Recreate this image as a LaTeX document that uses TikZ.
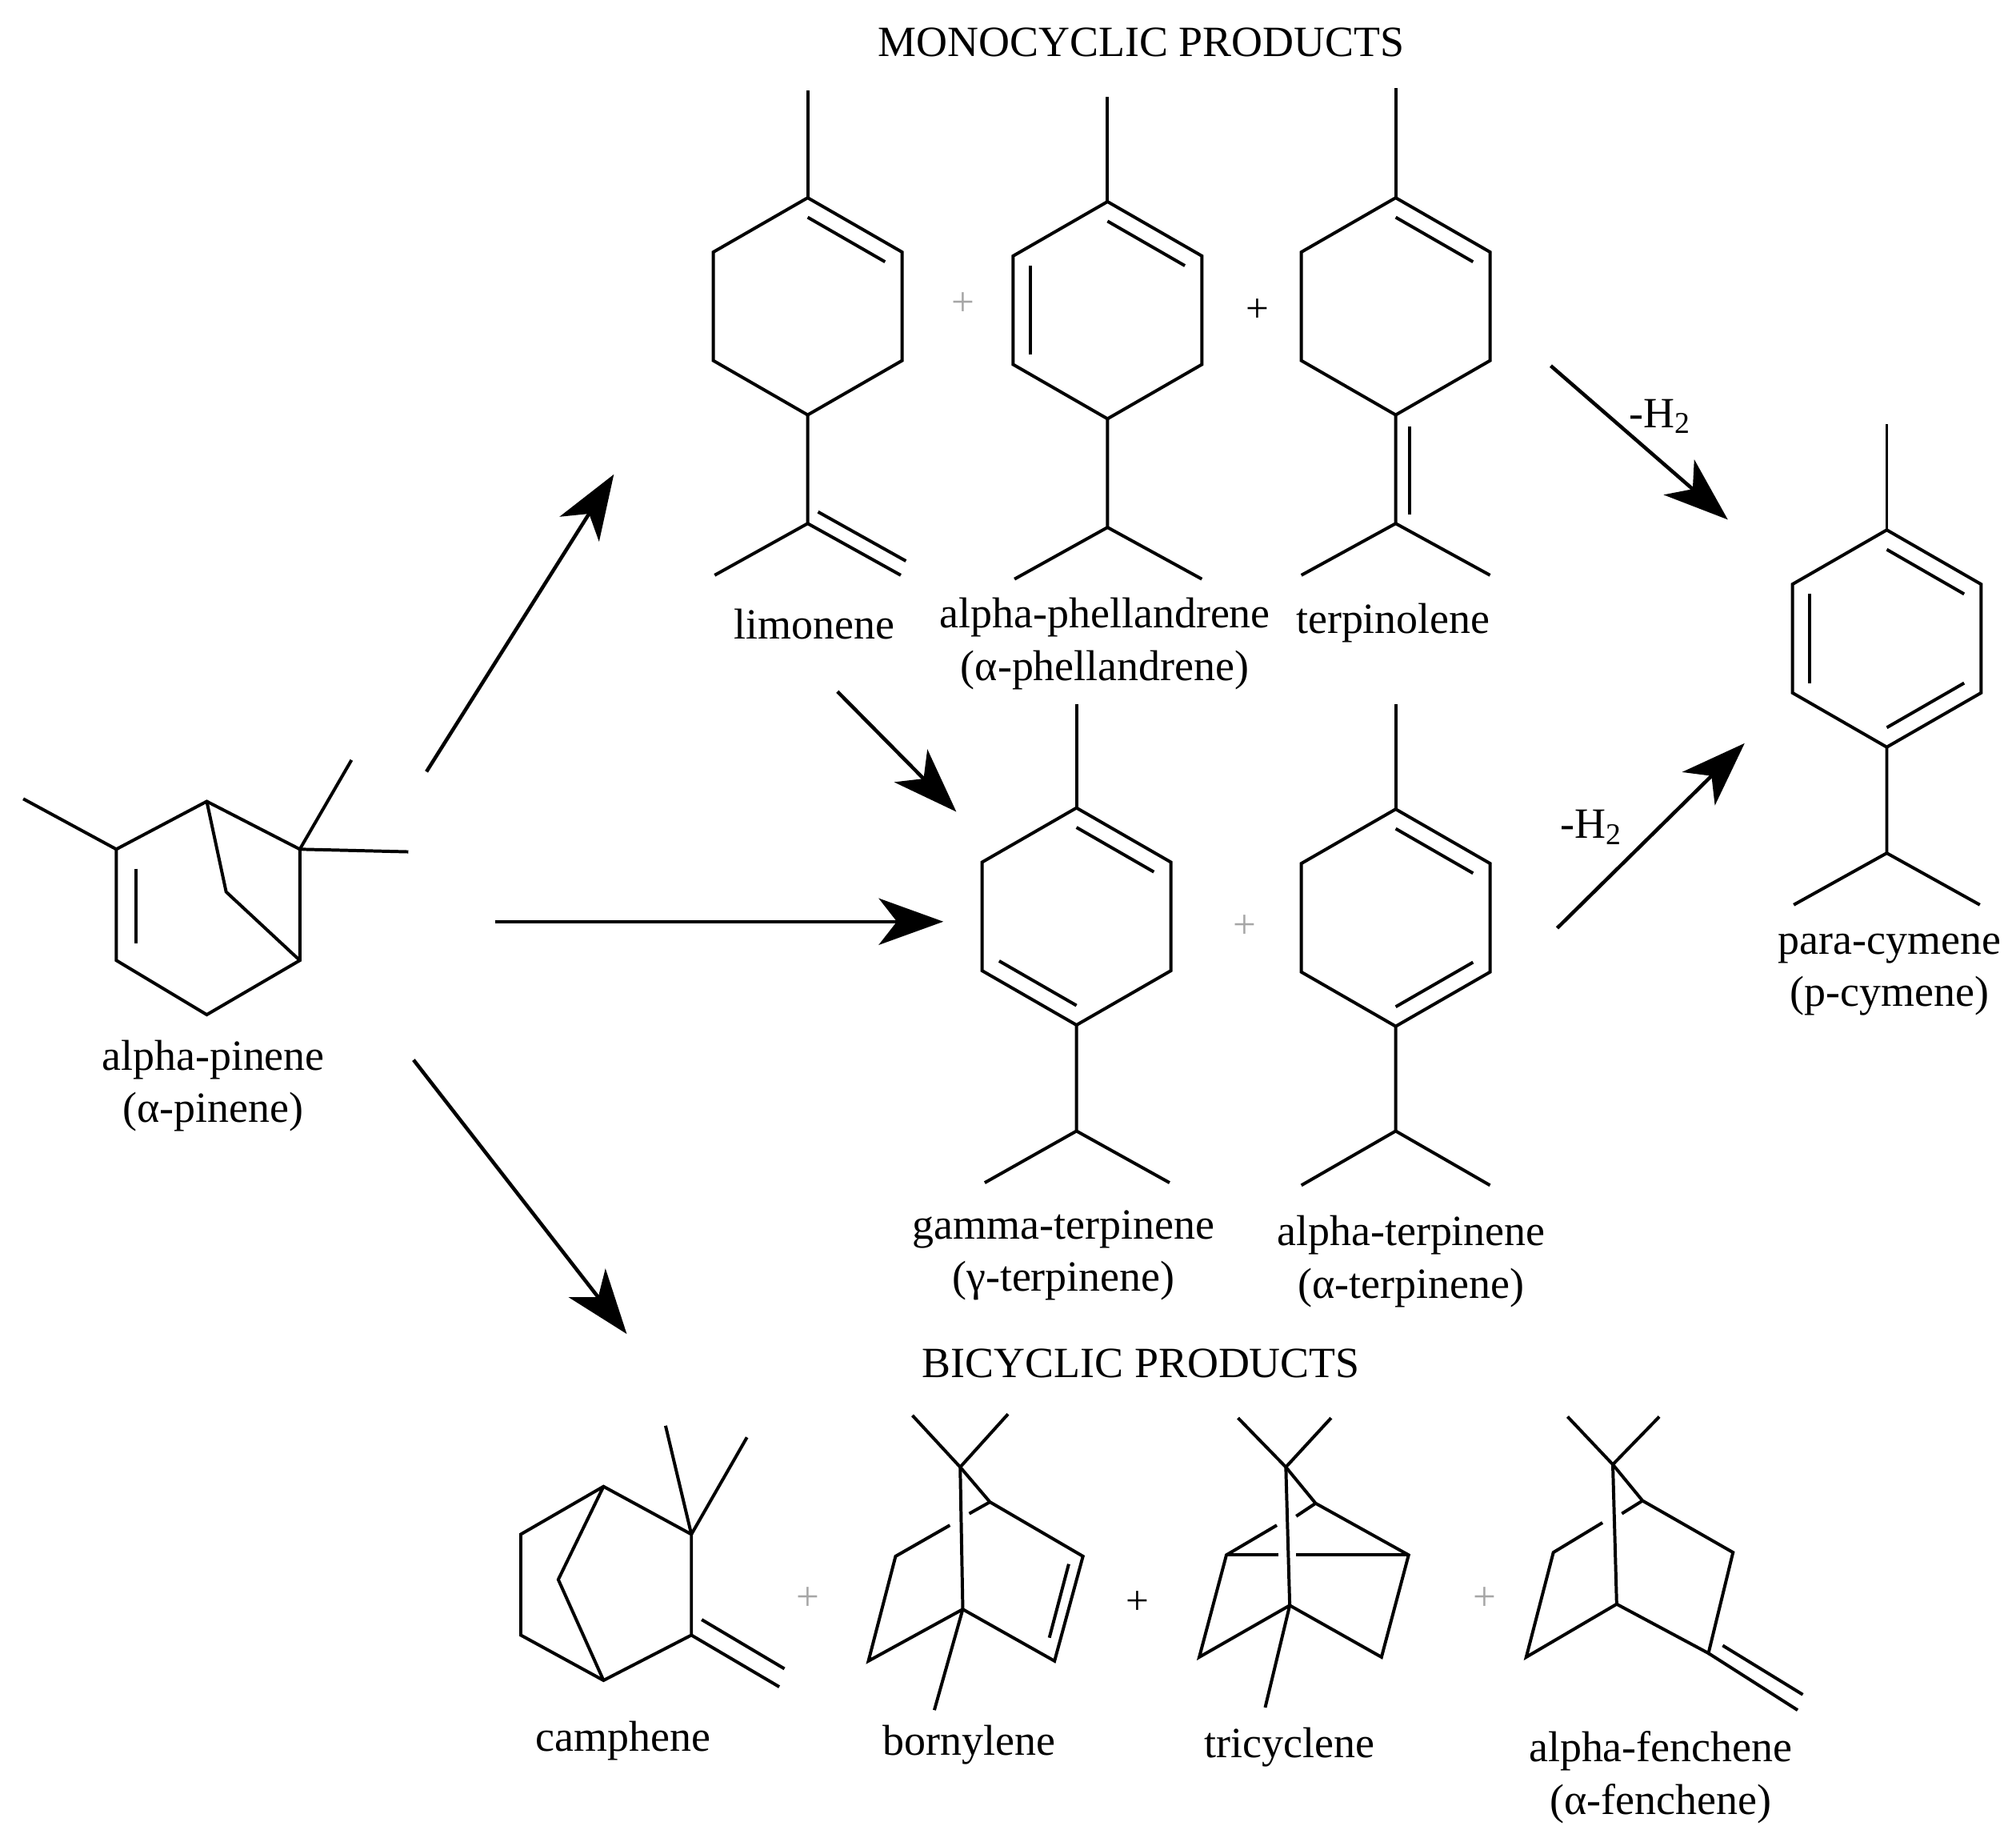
\documentclass[tikz,border=0pt]{standalone}
\usepackage{fontspec}
\setmainfont{Liberation Serif}
\usetikzlibrary{arrows.meta,calc}
\newcommand\hexa[3]{%
  \coordinate (#1c) at (#2,#3);
  \coordinate (#11) at (#2,#3-84);
  \coordinate (#12) at (#2+73,#3-42);
  \coordinate (#13) at (#2+73,#3+42);
  \coordinate (#14) at (#2,#3+84);
  \coordinate (#15) at (#2-73,#3+42);
  \coordinate (#16) at (#2-73,#3-42);
  \draw (#11)--(#12)--(#13)--(#14)--(#15)--(#16)--cycle;}
\newcommand\inb[3]{\draw ($(#1c)!0.82!(#1#2)$) -- ($(#1c)!0.82!(#1#3)$);}
\begin{document}
\begin{tikzpicture}[x=0.1mm,y=-0.1mm,line width=0.7pt,
  lab/.style={font=\fontsize{9.5}{11.5}\selectfont,align=center,inner sep=0pt},
  plus/.style={font=\fontsize{9}{10}\selectfont,inner sep=0pt},
  gplus/.style={plus,text=gray!70},
  arr/.style={line width=0.8pt,-{Stealth[length=5mm,width=3.6mm,inset=1.4mm]}}]
\useasboundingbox (0,0) rectangle (1560,1425);

% titles
\node[lab] (mono) at (883,33) {MONOCYCLIC PRODUCTS};
\node[lab] (bi) at (883,1055) {BICYCLIC PRODUCTS};

% alpha-pinene
\coordinate (p1) at (160,620); \coordinate (p2) at (232,657); \coordinate (p3) at (232,743);
\coordinate (p4) at (160,785); \coordinate (p5) at (90,743); \coordinate (p6) at (90,657);
\draw (p1)--(p2)--(p3)--(p4)--(p5)--(p6)--cycle;
\draw (p6)--(18,618);
\draw (105,672)--(105,730);
\draw (p1)--(175,690)--(p3);
\draw (p2)--(272,588); \draw (p2)--(316,659);
\node[lab] (pinene) at (165,840) {alpha-pinene\\(α-pinene)};

% limonene
\hexa{L}{625}{237}
\inb{L}{1}{2}
\draw (L1)--(625,70);
\draw (L4)--(625,405)--(553,445); \draw (625,405)--(697,445);
\draw (633,396)--(701,434);
\node[lab] (limonene) at (630,483) {limonene};
\node[gplus] (pl1) at (745,235) {+};

% alpha-phellandrene
\hexa{A}{857}{240}
\inb{A}{1}{2} \inb{A}{5}{6}
\draw (A1)--(857,75);
\draw (A4)--(857,408)--(785,448); \draw (857,408)--(930,448);
\node[lab] (aphel) at (855,498) {alpha-phellandrene\\(α-phellandrene)};
\node[plus] (pl2) at (973,240) {+};

% terpinolene
\hexa{T}{1080}{237}
\inb{T}{1}{2}
\draw (T1)--(1080,68);
\draw (T4)--(1080,405)--(1007,445); \draw (1080,405)--(1153,445);
\draw (1091,330)--(1091,398);
\node[lab] (terpinolene) at (1078,482) {terpinolene};

% p-cymene
\hexa{C}{1460}{494}
\inb{C}{1}{2} \inb{C}{5}{6} \inb{C}{3}{4}
\draw (C1)--(1460,328);
\draw (C4)--(1460,660)--(1388,700); \draw (1460,660)--(1532,700);
\node[lab] (cymene) at (1462,754) {para-cymene\\(p-cymene)};

% gamma-terpinene
\hexa{G}{833}{709}
\inb{G}{1}{2} \inb{G}{4}{5}
\draw (G1)--(833,545);
\draw (G4)--(833,875)--(762,915); \draw (833,875)--(905,915);
\node[lab] (gterp) at (823,971) {gamma-terpinene\\(γ-terpinene)};
\node[gplus] (pl3) at (963,717) {+};

% alpha-terpinene
\hexa{B}{1080}{710}
\inb{B}{1}{2} \inb{B}{3}{4}
\draw (B1)--(1080,545);
\draw (B4)--(1080,875)--(1007,917); \draw (1080,875)--(1153,917);
\node[lab] (aterp) at (1092,976) {alpha-terpinene\\(α-terpinene)};

% arrows
\coordinate (a1s) at (330,597); \coordinate (a1e) at (475,367);
\coordinate (a2s) at (383,713); \coordinate (a2e) at (730,713);
\coordinate (a3s) at (320,820); \coordinate (a3e) at (485,1032);
\coordinate (a4s) at (648,535); \coordinate (a4e) at (740,628);
\coordinate (a5s) at (1200,283); \coordinate (a5e) at (1337,402);
\coordinate (a6s) at (1205,718); \coordinate (a6e) at (1350,575);
\draw[arr] (a1s)--(a1e);
\draw[arr] (a2s)--(a2e);
\draw[arr] (a3s)--(a3e);
\draw[arr] (a4s)--(a4e);
\draw[arr] (a5s)--(a5e);
\draw[arr] (a6s)--(a6e);
\node[lab] (h1) at (1285,322) {-H\textsubscript{2}};
\node[lab] (h2) at (1232,640) {-H\textsubscript{2}};

% camphene
\coordinate (k1) at (467,1150); \coordinate (k2) at (535,1187); \coordinate (k3) at (535,1265);
\coordinate (k4) at (467,1300); \coordinate (k5) at (403,1265); \coordinate (k6) at (403,1187);
\draw (k1)--(k2)--(k3)--(k4)--(k5)--(k6)--cycle;
\draw (k1)--(432,1222)--(k4);
\draw (k2)--(515,1103); \draw (k2)--(578,1112);
\draw (k3)--(603,1305); \draw (543,1253)--(607,1291);
\node[lab] (camphene) at (482,1347) {camphene};
\node[gplus] (pl4) at (625,1237) {+};

% bornylene
\coordinate (b7) at (743,1135); \coordinate (bt) at (766,1162); \coordinate (bb) at (745,1245);
\coordinate (br) at (838,1204); \coordinate (bbr) at (816,1285);
\coordinate (bl) at (693,1204); \coordinate (bbl) at (672,1285);
\draw (b7)--(706,1095); \draw (b7)--(780,1094);
\draw (b7)--(bb); \draw (b7)--(bt)--(br)--(bbr)--(bb)--(bbl)--(bl)--(735,1180);
\draw (bt)--(750,1171);
\draw (827,1210)--(812,1267);
\draw (bb)--(723,1323);
\node[lab] (bornylene) at (750,1350) {bornylene};
\node[plus] (pl5) at (880,1240) {+};

% tricyclene
\coordinate (t7) at (995,1135); \coordinate (tt) at (1018,1163); \coordinate (tb) at (998,1242);
\coordinate (tr) at (1090,1203); \coordinate (tbr) at (1069,1282);
\coordinate (tl) at (949,1203); \coordinate (tbl) at (928,1282);
\draw (t7)--(958,1097); \draw (t7)--(1030,1097);
\draw (t7)--(tb); \draw (t7)--(tt)--(tr)--(tbr)--(tb)--(tbl)--(tl)--(988,1180);
\draw (tt)--(1003,1173);
\draw (tl)--(989,1203); \draw (1003,1203)--(tr);
\draw (tb)--(979,1321);
\node[lab] (tricyclene) at (998,1352) {tricyclene};
\node[gplus] (pl6) at (1149,1237) {+};

% alpha-fenchene
\coordinate (f7) at (1248,1133); \coordinate (ft) at (1271,1161); \coordinate (fb) at (1251,1241);
\coordinate (fr) at (1341,1201); \coordinate (fbr) at (1322,1279);
\coordinate (fl) at (1202,1201); \coordinate (fbl) at (1181,1282);
\draw (f7)--(1213,1096); \draw (f7)--(1284,1096);
\draw (f7)--(fb); \draw (f7)--(ft)--(fr)--(fbr)--(fb)--(fbl)--(fl)--(1240,1178);
\draw (ft)--(1255,1171);
\draw (fbr)--(1391,1323); \draw (1333,1273)--(1395,1311);
\node[lab] (fenchene) at (1285,1375) {alpha-fenchene\\(α-fenchene)};
\end{tikzpicture}
\end{document}
